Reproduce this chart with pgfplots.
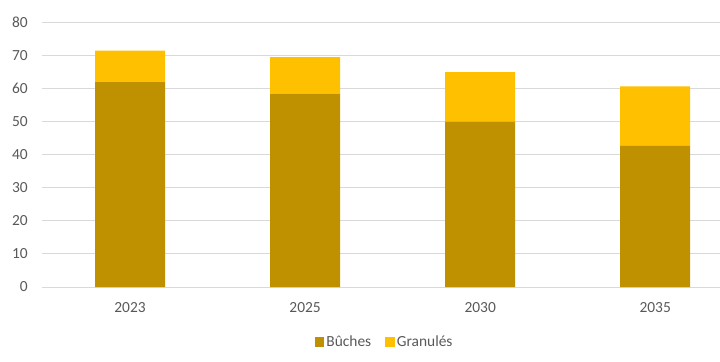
\documentclass[border=0pt]{standalone}
\usepackage{pgfplots}
\pgfplotsset{compat=1.18}
\usepackage{fontspec}
\setmainfont{Carlito}
\definecolor{buches}{HTML}{BF9000}
\definecolor{granules}{HTML}{FFC000}
\definecolor{gridc}{HTML}{D9D9D9}
\definecolor{txt}{HTML}{595959}
\begin{document}
\begin{tikzpicture}
\useasboundingbox (0,0) rectangle (720bp,362bp);
\begin{axis}[
  at={(42.5bp,75bp)}, anchor=south west,
  scale only axis, width=677.5bp, height=264.5bp,
  xmin=-0.5, xmax=3.37, ymin=0, ymax=80,
  ybar stacked, bar width=70bp,
  xtick={0,1,2,3}, xticklabels={2023,2025,2030,2035},
  ytick={0,10,...,80},
  ymajorgrids, major grid style={gridc, line width=0.9bp},
  axis line style={draw=none}, tick style={draw=none},
  /pgf/number format/assume math mode=true,
  tick label style={font=\fontsize{15.5}{17}\selectfont, text=txt},
  yticklabel style={inner sep=0pt, xshift=-14.5bp},
  xticklabel style={inner sep=0pt, yshift=-15bp},
  legend style={at={(0.505,-0.208)}, anchor=center, draw=none, fill=none,
    legend columns=2, font=\fontsize{15.5}{17}\selectfont, text=txt,
    /tikz/every even column/.append style={column sep=12bp}},
  legend image code/.code={\fill[#1] (0bp,-4.8bp) rectangle (9.6bp,4.8bp);},
  clip=false,
]
\addplot[fill=buches, draw=none] coordinates {(0,62) (1,58.5) (2,50) (3,42.7)};
\addplot[fill=granules, draw=none] coordinates {(0,9.5) (1,11) (2,15) (3,18)};
\legend{Bûches,Granulés}
\end{axis}
\end{tikzpicture}
\end{document}
